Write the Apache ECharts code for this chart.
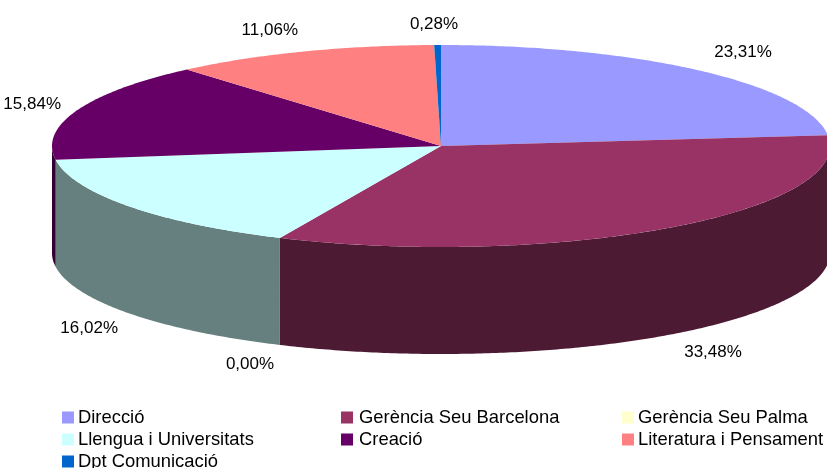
<!DOCTYPE html>
<html>
<head>
<meta charset="utf-8">
<script src="https://cdn.jsdelivr.net/npm/echarts@6/dist/echarts.min.js"></script>
<style>html,body{margin:0;padding:0;background:#fff}#main{width:827px;height:468px}</style>
</head>
<body>
<div id="main"></div>
<script>
// categories and shares (%)
var categories = ['Direcció','Gerència Seu Barcelona','Gerència Seu Palma','Llengua i Universitats','Creació','Literatura i Pensament','Dpt Comunicació'];
var shares = [23.31,33.48,0,16.02,15.84,11.06,0.28];
var topColors = ['#9999ff','#993366','#ffffcc','#ccffff','#660066','#ff8080','#0066cc'];
var sideColors = ['#4d4d80','#4d1a33','#808066','#668080','#330033','#804040','#003366'];
var legendColumns = [
	['Direcció','Llengua i Universitats','Dpt Comunicació'],
	['Gerència Seu Barcelona','Creació'],
	['Gerència Seu Palma','Literatura i Pensament']
];

// pie geometry
var cx = 441, cy = 146, rx = 389, ry = 101, depth = 107;
// where each percentage label sits
var labelSpots = [
	{x:743,y:52,align:'center'},
	{x:713,y:352,align:'center'},
	{x:250,y:364,align:'center'},
	{x:118,y:328,align:'right'},
	{x:61,y:104,align:'right'},
	{x:298,y:30,align:'right'},
	{x:434,y:24,align:'center'}
];

var total = 0;
shares.forEach(function(v){ total += v; });

function rim(a, drop){
	return [cx + rx*Math.sin(a), cy - ry*Math.cos(a) + (drop||0)];
}

function arc(from, to, drop){
	var pts = [], n = Math.max(2, Math.ceil((to-from)/0.01));
	for(var i=0;i<=n;i++){
		pts.push(rim(from+(to-from)*i/n, drop));
	}
	return pts;
}

function renderSlice(idx){
	return function(params, api){
		var before = 0;
		for(var i=0;i<idx;i++) before += shares[i];
		var v = api.value(0);
		var a0 = before/total*Math.PI*2, a1 = (before+v)/total*Math.PI*2;
		var kids = [];
		if(v>0){
			// only the front half of the wall can be seen
			var s0 = Math.max(a0, Math.PI/2), s1 = Math.min(a1, Math.PI*1.5);
			if(s1>s0){
				kids.push({type:'polygon',shape:{points:arc(s0,s1,0).concat(arc(s0,s1,depth).reverse())},style:{fill:sideColors[idx]}});
			}
			kids.push({type:'polygon',shape:{points:[[cx,cy]].concat(arc(a0,a1,0))},style:{fill:topColors[idx]}});
		}
		var spot = labelSpots[idx];
		kids.push({type:'text',x:spot.x,y:spot.y,z2:10,style:{
			text:v.toFixed(2).replace('.',',')+'%',
			font:'17px "Liberation Sans"',fill:'#000',align:spot.align,verticalAlign:'middle'
		}});
		return {type:'group',children:kids};
	};
}

var series = categories.map(function(name,i){
	return {
		name:name,
		type:'custom',
		coordinateSystem:'none',
		silent:true,
		itemStyle:{color:topColors[i]},
		encode:{value:0},
		renderItem:renderSlice(i),
		data:[[shares[i]]]
	};
});

function legendAt(left,names,textGap){
	return {
		left:left,top:407,height:100,orient:'vertical',
		data:names,icon:'rect',itemWidth:12,itemHeight:12,itemGap:1,
		selectedMode:false,padding:0,
		textStyle:{fontFamily:'Liberation Sans',fontSize:18.4,color:'#000',padding:[0,0,4,textGap],lineHeight:17}
	};
}

var myChart = echarts.init(document.getElementById('main'));
var option = {
	backgroundColor:'#fff',
	animation:false,
	legend:[legendAt(62,legendColumns[0],-1),legendAt(341,legendColumns[1],1),legendAt(622,legendColumns[2],-1)],
	series:series
};
myChart.setOption(option);
</script>
</body>
</html>
